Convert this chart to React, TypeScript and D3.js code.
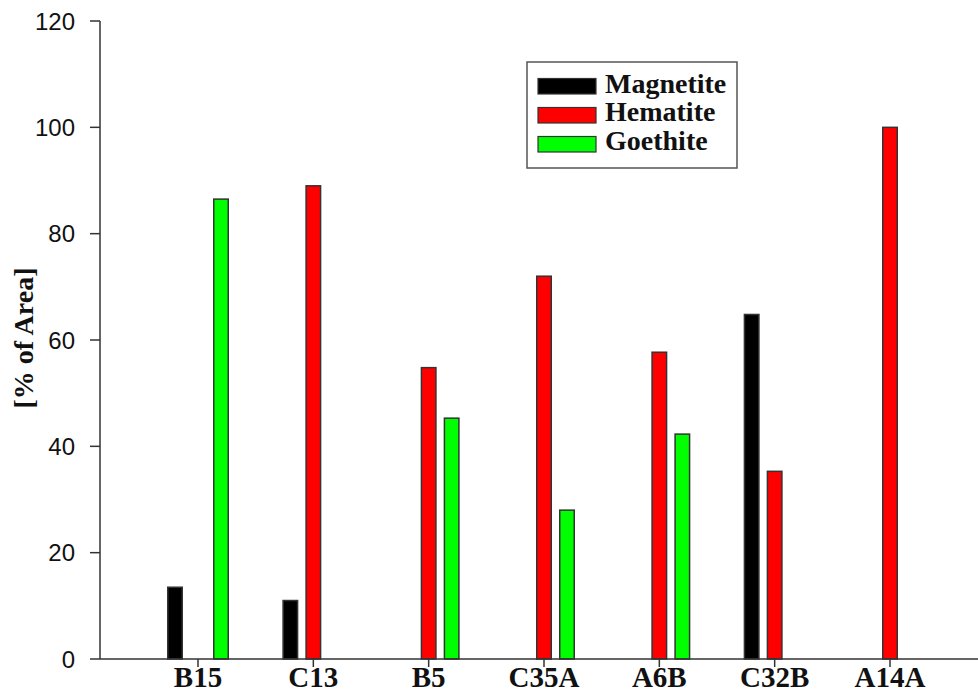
import React from "react";
import * as d3 from "d3";

const categories = ["B15", "C13", "B5", "C35A", "A6B", "C32B", "A14A"];
const seriesNames = ["Magnetite", "Hematite", "Goethite"];
const seriesColors = ["#000000", "#ff0000", "#00ff00"];
const magnetite = [13.5, 11, 0, 0, 0, 64.8, 0];
const hematite = [0, 89, 54.8, 72, 57.7, 35.3, 100];
const goethite = [86.5, 0, 45.3, 28, 42.3, 0, 0];
const yTicks = [0, 20, 40, 60, 80, 100, 120];

export default function App() {
  const W = 978, H = 694;
  const left = 100, right = 978, top = 21, bottom = 659;
  const y = d3.scaleLinear().domain([0, 120]).range([bottom, top]);
  const x = d3.scalePoint<string>().domain(categories).range([198, 890]);
  const off = d3.scalePoint<string>().domain(seriesNames).range([-23, 23]);
  const bw = 14.5;
  const series = [magnetite, hematite, goethite];
  const serif = "'Liberation Serif', 'Times New Roman', serif";
  const sans = "'Liberation Sans', Arial, sans-serif";
  const axisColor = "#333";

  return (
    <svg width={W} height={H} style={{ position: "absolute", left: 0, top: 0 }}>
      <rect width={W} height={H} fill="#fff" />
      {series.map((vals, si) =>
        vals.map((v, ci) =>
          v > 0 ? (
            <rect
              key={`${si}-${ci}`}
              x={(x(categories[ci]) as number) + (off(seriesNames[si]) as number) - bw / 2}
              y={y(v)}
              width={bw}
              height={y(0) - y(v)}
              fill={seriesColors[si]}
              stroke="#333"
              strokeWidth={1.5}
            />
          ) : null
        )
      )}
      {/* y axis */}
      <line x1={left} x2={left} y1={top} y2={bottom} stroke={axisColor} strokeWidth={1.5} />
      {yTicks.map((t) => (
        <g key={t}>
          <line x1={left - 10} x2={left} y1={y(t)} y2={y(t)} stroke={axisColor} strokeWidth={1.5} />
          <text x={75} y={y(t) + 8.5} textAnchor="end" fontFamily={sans} fontSize={24} fill="#111">
            {t}
          </text>
        </g>
      ))}
      {/* x axis */}
      <line x1={left} x2={right} y1={bottom} y2={bottom} stroke={axisColor} strokeWidth={1.5} />
      {categories.map((c) => (
        <g key={c}>
          <line x1={x(c)} x2={x(c)} y1={bottom} y2={bottom + 8} stroke={axisColor} strokeWidth={1.5} />
          <text x={x(c)} y={687} textAnchor="middle" fontFamily={serif} fontWeight="bold" fontSize={29} fill="#111">
            {c}
          </text>
        </g>
      ))}
      <text
        transform={`translate(33, 338) rotate(-90)`}
        textAnchor="middle"
        fontFamily={serif}
        fontWeight="bold"
        fontSize={28}
        fill="#111"
      >
        [% of Area]
      </text>
      {/* legend */}
      <rect x={527} y={62} width={210} height={106} fill="#fff" stroke="#555" strokeWidth={1.5} />
      {seriesNames.map((n, i) => (
        <g key={n}>
          <rect x={538} y={78.5 + i * 29} width={58} height={15.5} fill={seriesColors[i]} stroke="#333" strokeWidth={1.2} />
          <text x={605} y={92.5 + i * 28.5} fontFamily={serif} fontWeight="bold" fontSize={28} fill="#111">
            {n}
          </text>
        </g>
      ))}
    </svg>
  );
}
